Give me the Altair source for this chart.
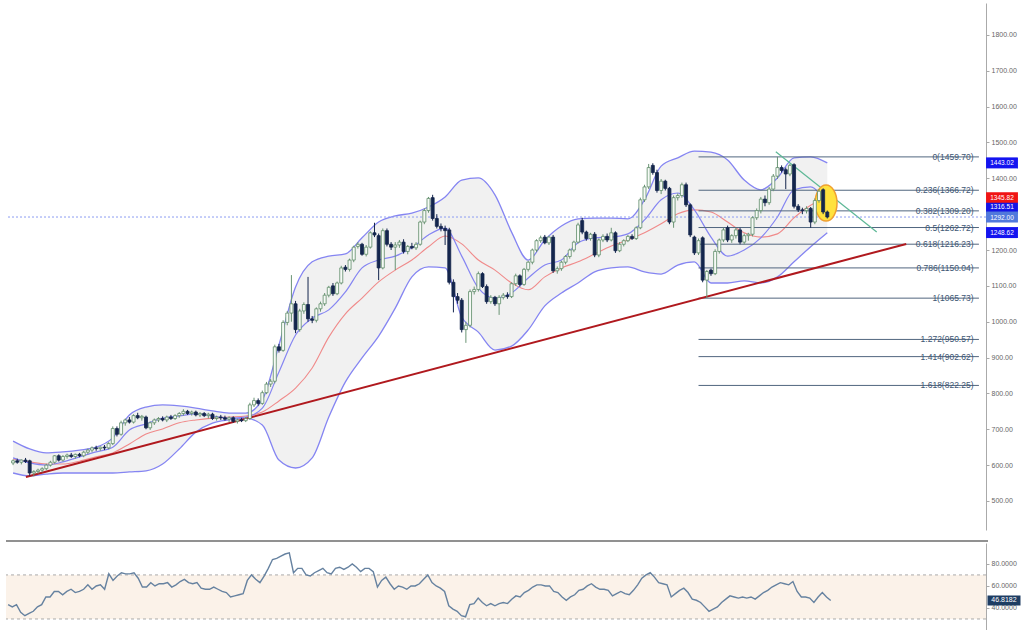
import altair as alt
import pandas as pd

# ---------------- candle data (weekly OHLC) ----------------
opens = [606, 612, 608, 614, 612, 578, 582, 586, 590, 600,
         608, 626, 614, 624, 628, 624, 630, 626, 636, 642,
         648, 646, 650, 648, 660, 702, 686, 718, 726, 720,
         738, 732, 734, 704, 718, 726, 730, 726, 734, 730,
         738, 744, 750, 744, 748, 740, 744, 738, 742, 730,
         734, 732, 728, 732, 722, 726, 724, 730, 768, 780,
         772, 802, 826, 834, 930, 920, 998, 1024, 1050, 978,
         1030, 1048, 1008, 1004, 1036, 1050, 1074, 1100, 1078, 1108,
         1152, 1146, 1172, 1210, 1216, 1188, 1208, 1248, 1240, 1150,
         1254, 1216, 1208, 1214, 1222, 1196, 1210, 1206, 1216, 1278,
         1310, 1346, 1288, 1266, 1260, 1256, 1110, 1070, 1060, 978,
         990, 1084, 1090, 1134, 1098, 1056, 1068, 1050, 1068, 1074,
         1070, 1106, 1128, 1104, 1146, 1166, 1200, 1226, 1236, 1220,
         1236, 1142, 1148, 1166, 1182, 1200, 1222, 1282, 1250, 1232,
         1244, 1186, 1228, 1238, 1228, 1248, 1198, 1216, 1226, 1238,
         1232, 1262, 1340, 1376, 1436, 1416, 1366, 1392, 1372, 1278,
         1346, 1352, 1382, 1326, 1236, 1192, 1234, 1116, 1144, 1134,
         1196, 1228, 1262, 1228, 1240, 1256, 1222, 1240, 1244, 1290,
         1310, 1342, 1332, 1370, 1406, 1430, 1424, 1412, 1438, 1322,
         1312, 1310, 1316, 1278, 1338, 1368, 1306]
highs = [616, 618, 616, 620, 615, 586, 590, 594, 604, 612,
         628, 630, 628, 632, 634, 632, 634, 640, 646, 652,
         654, 652, 656, 664, 708, 708, 724, 730, 734, 742,
         746, 740, 738, 722, 730, 734, 736, 738, 740, 742,
         748, 756, 754, 752, 752, 748, 748, 746, 746, 738,
         740, 738, 736, 736, 730, 732, 734, 774, 788, 786,
         808, 832, 840, 936, 938, 1004, 1030, 1130, 1058, 1036,
         1054, 1125, 1016, 1040, 1056, 1080, 1100, 1108, 1112, 1156,
         1158, 1176, 1212, 1222, 1220, 1214, 1252, 1276, 1246, 1260,
         1260, 1222, 1222, 1228, 1230, 1214, 1220, 1222, 1282, 1316,
         1348, 1354, 1300, 1274, 1268, 1262, 1118, 1080, 1066, 1000,
         1090, 1098, 1140, 1138, 1104, 1074, 1072, 1074, 1080, 1082,
         1110, 1134, 1132, 1150, 1170, 1204, 1230, 1240, 1242, 1240,
         1242, 1154, 1170, 1186, 1204, 1226, 1276, 1290, 1254, 1248,
         1250, 1232, 1244, 1246, 1262, 1252, 1222, 1230, 1242, 1244,
         1266, 1346, 1382, 1440, 1442, 1424, 1398, 1396, 1376, 1352,
         1358, 1388, 1388, 1330, 1240, 1232, 1238, 1144, 1148, 1202,
         1232, 1262, 1268, 1244, 1262, 1262, 1246, 1248, 1294, 1316,
         1348, 1352, 1376, 1412, 1460, 1436, 1430, 1440, 1442, 1328,
         1318, 1322, 1320, 1344, 1370, 1372, 1310]
lows = [600, 604, 602, 606, 570, 568, 576, 580, 586, 596,
        604, 610, 610, 618, 620, 618, 622, 622, 630, 636,
        640, 640, 642, 644, 656, 680, 682, 710, 716, 716,
        728, 724, 700, 698, 712, 720, 722, 720, 726, 726,
        732, 738, 740, 738, 736, 734, 734, 730, 726, 724,
        726, 724, 720, 718, 716, 720, 720, 726, 762, 766,
        768, 798, 818, 828, 914, 916, 990, 1000, 968, 972,
        1022, 1000, 996, 998, 1028, 1044, 1068, 1072, 1074, 1104,
        1140, 1140, 1166, 1204, 1184, 1182, 1204, 1236, 1116, 1146,
        1210, 1200, 1144, 1206, 1190, 1188, 1202, 1200, 1212, 1272,
        1304, 1282, 1260, 1252, 1214, 1104, 1026, 1050, 970, 941,
        984, 1076, 1084, 1094, 1050, 1050, 1044, 1019, 1062, 1064,
        1066, 1100, 1098, 1100, 1140, 1160, 1194, 1220, 1216, 1214,
        1136, 1134, 1142, 1160, 1176, 1194, 1218, 1244, 1226, 1226,
        1180, 1180, 1222, 1222, 1224, 1192, 1194, 1210, 1222, 1228,
        1228, 1258, 1334, 1370, 1410, 1360, 1356, 1366, 1272, 1262,
        1338, 1346, 1320, 1236, 1186, 1186, 1110, 1066, 1128, 1130,
        1190, 1222, 1222, 1220, 1232, 1216, 1216, 1226, 1238, 1284,
        1302, 1322, 1326, 1364, 1398, 1416, 1370, 1406, 1316, 1306,
        1300, 1302, 1262, 1272, 1332, 1300, 1288]
closes = [612, 608, 614, 610, 578, 582, 586, 590, 600, 608,
          626, 614, 624, 628, 624, 630, 626, 636, 642, 648,
          646, 650, 648, 660, 702, 686, 718, 726, 720, 738,
          732, 736, 704, 718, 726, 730, 726, 734, 730, 738,
          744, 750, 744, 748, 740, 744, 738, 742, 730, 734,
          732, 728, 732, 722, 726, 724, 730, 768, 780, 772,
          802, 826, 834, 930, 920, 998, 1024, 1050, 978, 1030,
          1048, 1008, 1004, 1036, 1050, 1074, 1096, 1078, 1108, 1150,
          1146, 1172, 1208, 1216, 1188, 1208, 1248, 1242, 1150, 1254,
          1216, 1208, 1214, 1222, 1196, 1210, 1206, 1216, 1278, 1310,
          1344, 1288, 1266, 1260, 1254, 1110, 1070, 1060, 978, 990,
          1084, 1090, 1134, 1098, 1056, 1068, 1050, 1068, 1074, 1070,
          1106, 1128, 1104, 1146, 1166, 1200, 1226, 1234, 1220, 1236,
          1142, 1148, 1166, 1182, 1200, 1222, 1270, 1250, 1232, 1244,
          1186, 1228, 1238, 1228, 1248, 1198, 1216, 1226, 1238, 1232,
          1262, 1340, 1376, 1430, 1416, 1366, 1392, 1372, 1278, 1346,
          1352, 1382, 1326, 1242, 1192, 1226, 1116, 1140, 1134, 1196,
          1228, 1256, 1228, 1240, 1256, 1222, 1240, 1244, 1290, 1310,
          1342, 1332, 1370, 1406, 1430, 1422, 1412, 1436, 1322, 1312,
          1310, 1316, 1278, 1338, 1364, 1306, 1292]

# RSI value under each candle
rsi_values = [43, 41, 43, 36, 33, 35, 37, 41, 43, 50,
              50, 55, 55, 52, 55, 57, 54, 55, 57, 61,
              57, 60, 61, 57, 71, 65, 69, 72, 71, 71,
              72, 67, 59, 59, 63, 60, 62, 62, 63, 59,
              61, 64, 66, 63, 62, 63, 58, 57, 57, 59,
              57, 55, 54, 50, 51, 52, 53, 65, 70, 66,
              63, 69, 76, 84, 85, 87, 89, 90, 72, 76,
              76, 70, 69, 72, 74, 76, 72, 71, 76, 77,
              75, 77, 80, 77, 73, 76, 76, 73, 59, 65,
              68, 62, 57, 60, 59, 57, 60, 60, 62, 66,
              70, 63, 60, 58, 55, 42, 39, 37, 33, 32,
              43, 44, 49, 45, 42, 44, 42, 44, 45, 44,
              48, 51, 50, 54, 56, 59, 61, 61, 60, 60,
              55, 54, 50, 47, 50, 52, 56, 57, 60, 62,
              59, 57, 57, 56, 51, 53, 55, 53, 52, 56,
              61, 67, 70, 72, 68, 63, 62, 61, 50, 53,
              56, 58, 54, 48, 47, 45, 41, 37, 39, 41,
              45, 48, 51, 50, 49, 50, 49, 50, 48, 51,
              54, 56, 59, 61, 63, 62, 61, 64, 55, 50,
              50, 49, 45, 50, 54, 50, 46.8182]

# Bollinger bands / moving averages read every 4th candle
band_idx = [0, 4, 8, 12, 16, 20, 24, 28, 32, 36,
            40, 44, 48, 52, 56, 60, 64, 68, 72, 76,
            80, 84, 88, 92, 96, 100, 104, 108, 112, 116,
            120, 124, 128, 132, 136, 140, 144, 148, 152, 156,
            160, 164, 168, 172, 176, 180, 184, 188, 192, 196]
band_upper = [667, 645, 634, 637, 642, 650, 676, 740, 762, 768,
              765, 759, 751, 745, 745, 782, 935, 1097, 1167, 1183,
              1189, 1234, 1278, 1295, 1303, 1320, 1348, 1395, 1401, 1354,
              1250, 1172, 1228, 1267, 1287, 1289, 1289, 1287, 1340, 1434,
              1457, 1476, 1473, 1451, 1395, 1368, 1401, 1457, 1460, 1443]
band_middle = [617, 609, 603, 603, 611, 623, 634, 659, 687, 701,
               718, 726, 731, 734, 737, 748, 779, 815, 871, 957,
               1022, 1066, 1111, 1144, 1172, 1209, 1239, 1217, 1172, 1144,
               1108, 1089, 1125, 1150, 1167, 1189, 1211, 1228, 1248, 1273,
               1301, 1312, 1306, 1278, 1248, 1236, 1245, 1290, 1325, 1346]
band_lower = [578, 570, 575, 578, 578, 578, 578, 581, 584, 603,
              645, 692, 717, 726, 731, 712, 614, 592, 620, 734,
              832, 899, 960, 1038, 1125, 1153, 1150, 1013, 971, 921,
              932, 977, 1044, 1080, 1108, 1139, 1150, 1153, 1139, 1133,
              1158, 1167, 1108, 1108, 1114, 1108, 1125, 1167, 1209, 1248]
fast_ma = [620, 606, 600, 609, 623, 637, 650, 698, 715, 731,
           737, 743, 737, 731, 734, 759, 860, 963, 1010, 1033,
           1083, 1150, 1172, 1183, 1206, 1242, 1261, 1183, 1094, 1066,
           1080, 1122, 1158, 1172, 1220, 1234, 1236, 1245, 1284, 1340,
           1359, 1312, 1236, 1183, 1200, 1234, 1292, 1368, 1376, 1316]

# Fibonacci retracement
fib_levels = ["0", "0.236", "0.382", "0.5", "0.618", "0.786", "1", "1.272", "1.414", "1.618"]
fib_prices = [1459.70, 1366.72, 1309.20, 1262.72, 1216.23, 1150.04, 1065.73, 950.57, 902.62, 822.25]
fib_start = 165
fib_end = 232.5
fib_text_at = 231.2

# drawn lines
trend_i = [3.1, 215.0]
trend_p = [567, 1217]
down_i = [183.6, 207.9]
down_p = [1474, 1250]
ellipse_i = [195.7]
ellipse_p = [1331]
last_price = 1292.00

# price tags on the axis
tag_values = [1443.02, 1345.82, 1316.51, 1248.62, 1292.00]
tag_colors = ["#1414F0", "#F01414", "#1414E6", "#1414F0", "#5078DC"]
tag_nudge = [0, 0, -1, 0, 1]
rsi_last = 46.8182

# 1300.00 sits behind the price tags in the reference, so it is not labelled
price_ticks = [500, 600, 700, 800, 900, 1000, 1100, 1200, 1400, 1500, 1600, 1700, 1800]
rsi_ticks = [40, 60, 80]
rsi_bounds = [30, 70]

# ---------------- frames ----------------
N = len(closes)
candles = pd.DataFrame({"i": list(range(N)), "o": opens, "h": highs, "l": lows, "c": closes})
bands = pd.DataFrame({"i": band_idx, "u": band_upper, "m": band_middle, "lo": band_lower, "f": fast_ma})
fib = pd.DataFrame({
    "p": fib_prices,
    "label": [f"{lv}({p:.2f})" for lv, p in zip(fib_levels, fib_prices)],
    "x0": [fib_start] * len(fib_prices),
    "x1": [fib_end] * len(fib_prices),
    "xt": [fib_text_at] * len(fib_prices),
})
trend = pd.DataFrame({"i": trend_i, "p": trend_p})
down = pd.DataFrame({"i": down_i, "p": down_p})
ell = pd.DataFrame({"i": ellipse_i, "p": ellipse_p})
tags = pd.DataFrame({"v": tag_values, "col": tag_colors, "nudge": tag_nudge,
                     "lbl": [f"{v:.2f}" for v in tag_values]})
rsi_df = pd.DataFrame({"i": list(range(N)), "r": rsi_values})
rsi_tag = pd.DataFrame({"v": [rsi_last], "lbl": [f"{rsi_last:.4f}"]})
bounds = pd.DataFrame({"b": rsi_bounds})
lastp = pd.DataFrame({"p": [last_price]})

FONT = "Liberation Sans"
xs = alt.Scale(domain=[-0.5, 233], nice=False, zero=False)
ys = alt.Scale(domain=[419, 1889], nice=False, zero=False)
yaxis = alt.Axis(orient="right", values=price_ticks, format=".2f", labelFontSize=7,
                 labelColor="#666666", labelFont=FONT, tickSize=3, tickColor="#AAAAAA",
                 domainColor="#AAAAAA", grid=False, title=None, labelPadding=2)


def X(f):
    return alt.X(f, scale=xs, axis=None)


def Y(f):
    return alt.Y(f, scale=ys, axis=yaxis)


BLUE = "#8585F2"
up_cond = "datum.c >= datum.o"

area = alt.Chart(bands).mark_area(color="#F1F1F1", interpolate="monotone").encode(
    x=X("i:Q"), y=Y("u:Q"), y2="lo:Q")
l_up = alt.Chart(bands).mark_line(color=BLUE, strokeWidth=1.3, interpolate="monotone").encode(
    x=X("i:Q"), y=Y("u:Q"))
l_lo = alt.Chart(bands).mark_line(color=BLUE, strokeWidth=1.3, interpolate="monotone").encode(
    x=X("i:Q"), y=Y("lo:Q"))
l_f = alt.Chart(bands).mark_line(color=BLUE, strokeWidth=1.2, interpolate="monotone").encode(
    x=X("i:Q"), y=Y("f:Q"))
l_m = alt.Chart(bands).mark_line(color="#F08A8A", strokeWidth=1.1, interpolate="monotone").encode(
    x=X("i:Q"), y=Y("m:Q"))

fib_rules = alt.Chart(fib).mark_rule(color="#51667F", strokeWidth=1).encode(
    x=X("x0:Q"), x2="x1:Q", y=Y("p:Q"))
fib_text = alt.Chart(fib).mark_text(align="right", baseline="middle", fontSize=8.5, font=FONT,
                                    color="#3E5673").encode(x=X("xt:Q"), y=Y("p:Q"), text="label:N")

trend_line = alt.Chart(trend).mark_line(color="#B0191E", strokeWidth=2).encode(x=X("i:Q"), y=Y("p:Q"))
down_line = alt.Chart(down).mark_line(color="#5DB896", strokeWidth=1.2).encode(x=X("i:Q"), y=Y("p:Q"))
last_line = alt.Chart(lastp).mark_rule(color="#8C9CF2", strokeWidth=1, strokeDash=[2, 2]).encode(y=Y("p:Q"))

ellipse = alt.Chart(ell).mark_point(
    shape="M -0.61 0 A 0.61 1 0 1 0 0.61 0 A 0.61 1 0 1 0 -0.61 0 Z",
    size=1296, filled=True, fill="#FFE23D", stroke="#F0A030", strokeWidth=1.5, opacity=1
).encode(x=X("i:Q"), y=Y("p:Q"))

wicks = alt.Chart(candles).mark_rule(strokeWidth=1).encode(
    x=X("i:Q"), y=Y("l:Q"), y2="h:Q",
    color=alt.condition(up_cond, alt.value("#6A9474"), alt.value("#14264D")))
bodies = alt.Chart(candles).mark_bar(size=3, strokeWidth=0.8).encode(
    x=X("i:Q"), y=Y("o:Q"), y2="c:Q",
    fill=alt.condition(up_cond, alt.value("#F6FAF6"), alt.value("#14264D")),
    stroke=alt.condition(up_cond, alt.value("#5E8B68"), alt.value("#14264D")))

TAG_SHAPE = "M -1.45 -0.5 L 1.45 -0.5 L 1.45 0.5 L -1.45 0.5 Z"
tag_box = alt.Chart(tags).mark_point(shape=TAG_SHAPE, size=484, filled=True, opacity=1).encode(
    x=alt.value(996), y=Y("v:Q"), fill=alt.Fill("col:N", scale=None))


def tag_text(nudge):
    return alt.Chart(tags).transform_filter(f"datum.nudge == {nudge}").mark_text(
        color="white", fontSize=6.5, font=FONT, baseline="middle", dy=nudge).encode(
        x=alt.value(996), y=Y("v:Q"), text="lbl:N")


tag_txts = [tag_text(n) for n in sorted(set(tag_nudge))]

main = alt.layer(area, l_up, l_lo, l_m, l_f, fib_rules, fib_text, trend_line, down_line,
                 last_line, ellipse, wicks, bodies, tag_box, *tag_txts).properties(width=980, height=527)

# ---------------- RSI panel ----------------
rs = alt.Scale(domain=[20, 99], nice=False, zero=False)
raxis = alt.Axis(orient="right", values=rsi_ticks, format=".4f", labelFontSize=7, labelColor="#666666",
                 labelFont=FONT, tickSize=3, tickColor="#AAAAAA", domainColor="#AAAAAA",
                 grid=False, title=None, labelPadding=2)
band_rect = alt.Chart(pd.DataFrame({"a": [rsi_bounds[0]], "b": [rsi_bounds[1]]})).mark_rect(
    color="#FBF2E9").encode(y=alt.Y("a:Q", scale=rs, axis=raxis), y2="b:Q")
bound_rules = alt.Chart(bounds).mark_rule(color="#AAAAAA", strokeDash=[3, 3], strokeWidth=1).encode(
    y=alt.Y("b:Q", scale=rs, axis=raxis))
sep = alt.Chart(bounds).mark_rule(color="#8A8A8A", strokeWidth=1.5).encode(
    y=alt.value(-2), x=alt.value(0), x2=alt.value(982))
rsi_line = alt.Chart(rsi_df).mark_line(color="#6682A0", strokeWidth=1.4).encode(
    x=X("i:Q"), y=alt.Y("r:Q", scale=rs, axis=raxis))
RSI_SHAPE = "M -1.5 -0.45 L 1.5 -0.45 L 1.5 0.45 L -1.5 0.45 Z"
rsi_box = alt.Chart(rsi_tag).mark_point(shape=RSI_SHAPE, size=484, filled=True, opacity=1,
                                        color="#1E3D63").encode(
    x=alt.value(998), y=alt.Y("v:Q", scale=rs, axis=raxis))
rsi_txt = alt.Chart(rsi_tag).mark_text(color="white", fontSize=7, font=FONT, baseline="middle").encode(
    x=alt.value(998), y=alt.Y("v:Q", scale=rs, axis=raxis), text="lbl:N")

rsi_panel = alt.layer(band_rect, bound_rules, rsi_line, sep, rsi_box, rsi_txt).properties(
    width=980, height=87)

chart = alt.vconcat(main, rsi_panel, spacing=10).configure(
    padding={"left": 5, "top": 3, "right": 0, "bottom": 0}, background="white"
).configure_view(stroke=None)

chart.save("out.html", embed_options={"renderer": "svg", "actions": False})
